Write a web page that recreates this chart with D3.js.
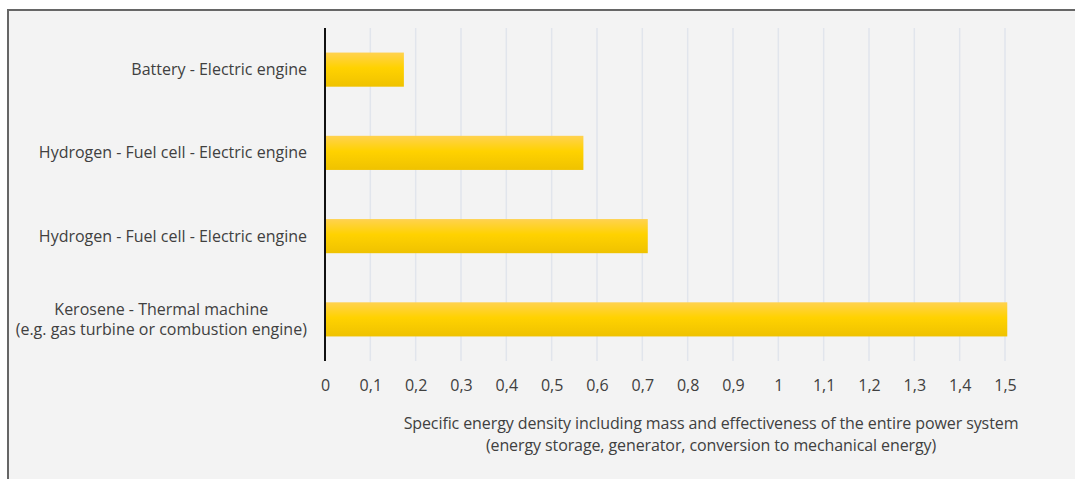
<!DOCTYPE html>
<html lang="en">

<head>
    <meta charset="UTF-8">
    <script src="https://cdnjs.cloudflare.com/ajax/libs/d3/7.9.0/d3.min.js"></script>
    <title>Specific energy density</title>
    <style>
        body {
            margin: 0;
            background-color: white;
        }

        svg {
            display: block;
        }

        .label,
        .tick text {
            font-family: "Open Sans", sans-serif;
            fill: #404040;
        }
    </style>
</head>

<body>
    <div id="content"></div>
    <script>
        const width = 1075;
        const height = 479;
        const margin = { top: 28, right: 70, bottom: 118, left: 325 };

        // data, top to bottom
        const categories = [
            ["Battery - Electric engine"],
            ["Hydrogen - Fuel cell - Electric engine"],
            ["Hydrogen - Fuel cell - Electric engine"],
            ["Kerosene - Thermal machine", "(e.g. gas turbine or combustion engine)"]
        ];
        const values = [0.174, 0.57, 0.712, 1.505];
        const tickValues = [0, 0.1, 0.2, 0.3, 0.4, 0.5, 0.6, 0.7, 0.8, 0.9, 1, 1.1, 1.2, 1.3, 1.4, 1.5];
        const axisTitle = [
            "Specific energy density including mass and effectiveness of the entire power system",
            "(energy storage, generator, conversion to mechanical energy)"
        ];

        const svg = d3.select("#content")
            .append("svg")
            .attr("width", width)
            .attr("height", height);

        // frame
        svg.append("rect")
            .attr("x", 8)
            .attr("y", 10)
            .attr("width", 1100)
            .attr("height", 500)
            .attr("fill", "#f3f3f3")
            .attr("stroke", "#666")
            .attr("stroke-width", 2);

        const defs = svg.append("defs");
        const grad = defs.append("linearGradient")
            .attr("id", "barGrad")
            .attr("x1", 0).attr("y1", 0).attr("x2", 0).attr("y2", 1);
        grad.append("stop").attr("offset", "0%").attr("stop-color", "#ffd250");
        grad.append("stop").attr("offset", "45%").attr("stop-color", "#ffd200");
        grad.append("stop").attr("offset", "100%").attr("stop-color", "#efc200");

        const x = d3.scaleLinear()
            .domain([0, 1.5])
            .range([margin.left, 1005]);

        const y = d3.scaleBand()
            .domain(d3.range(categories.length))
            .range([margin.top, 361])
            .paddingInner(0.59)
            .paddingOuter(0.295);

        // gridlines
        svg.append("g")
            .selectAll("line")
            .data(tickValues.slice(1))
            .join("line")
            .attr("x1", d => x(d))
            .attr("x2", d => x(d))
            .attr("y1", 28)
            .attr("y2", 361)
            .attr("stroke", "#e1e5ec")
            .attr("stroke-width", 1.5);

        // bars
        svg.append("g")
            .selectAll("rect")
            .data(values)
            .join("rect")
            .attr("x", x(0))
            .attr("y", (d, i) => y(i))
            .attr("width", d => x(d) - x(0))
            .attr("height", y.bandwidth())
            .attr("fill", "url(#barGrad)");

        // x axis labels (no line)
        const xAxis = d3.axisBottom(x)
            .tickValues(tickValues)
            .tickSize(0)
            .tickPadding(0)
            .tickFormat(d => d3.format("~g")(d).replace(".", ","));

        svg.append("g")
            .attr("transform", "translate(0,385)")
            .call(xAxis)
            .call(g => g.select(".domain").remove())
            .call(g => g.selectAll("text").attr("font-size", 16).attr("dy", "0.35em"));

        // y axis line
        svg.append("line")
            .attr("x1", x(0))
            .attr("x2", x(0))
            .attr("y1", 28)
            .attr("y2", 361)
            .attr("stroke", "#111")
            .attr("stroke-width", 2);

        // category labels, centred block whose right edge sits at x=308
        categories.forEach((lines, i) => {
            const cy = y(i) + y.bandwidth() / 2;
            const t = svg.append("text")
                .attr("class", "label")
                .attr("font-size", 16)
                .attr("text-anchor", "middle");
            lines.forEach((s, j) => {
                t.append("tspan")
                    .attr("x", 0)
                    .attr("y", cy + (j - (lines.length - 1) / 2) * 20)
                    .attr("dy", "0.35em")
                    .text(s);
            });
            const w = t.node().getBBox().width;
            t.selectAll("tspan").attr("x", 307 - w / 2);
        });

        // axis title
        const title = svg.append("text")
            .attr("class", "label")
            .attr("font-size", 16)
            .attr("text-anchor", "middle");
        axisTitle.forEach((s, j) => {
            title.append("tspan")
                .attr("x", 711)
                .attr("y", 423 + j * 22)
                .attr("dy", "0.35em")
                .attr("letter-spacing", -0.1)
                .text(s);
        });
    </script>
</body>

</html>
